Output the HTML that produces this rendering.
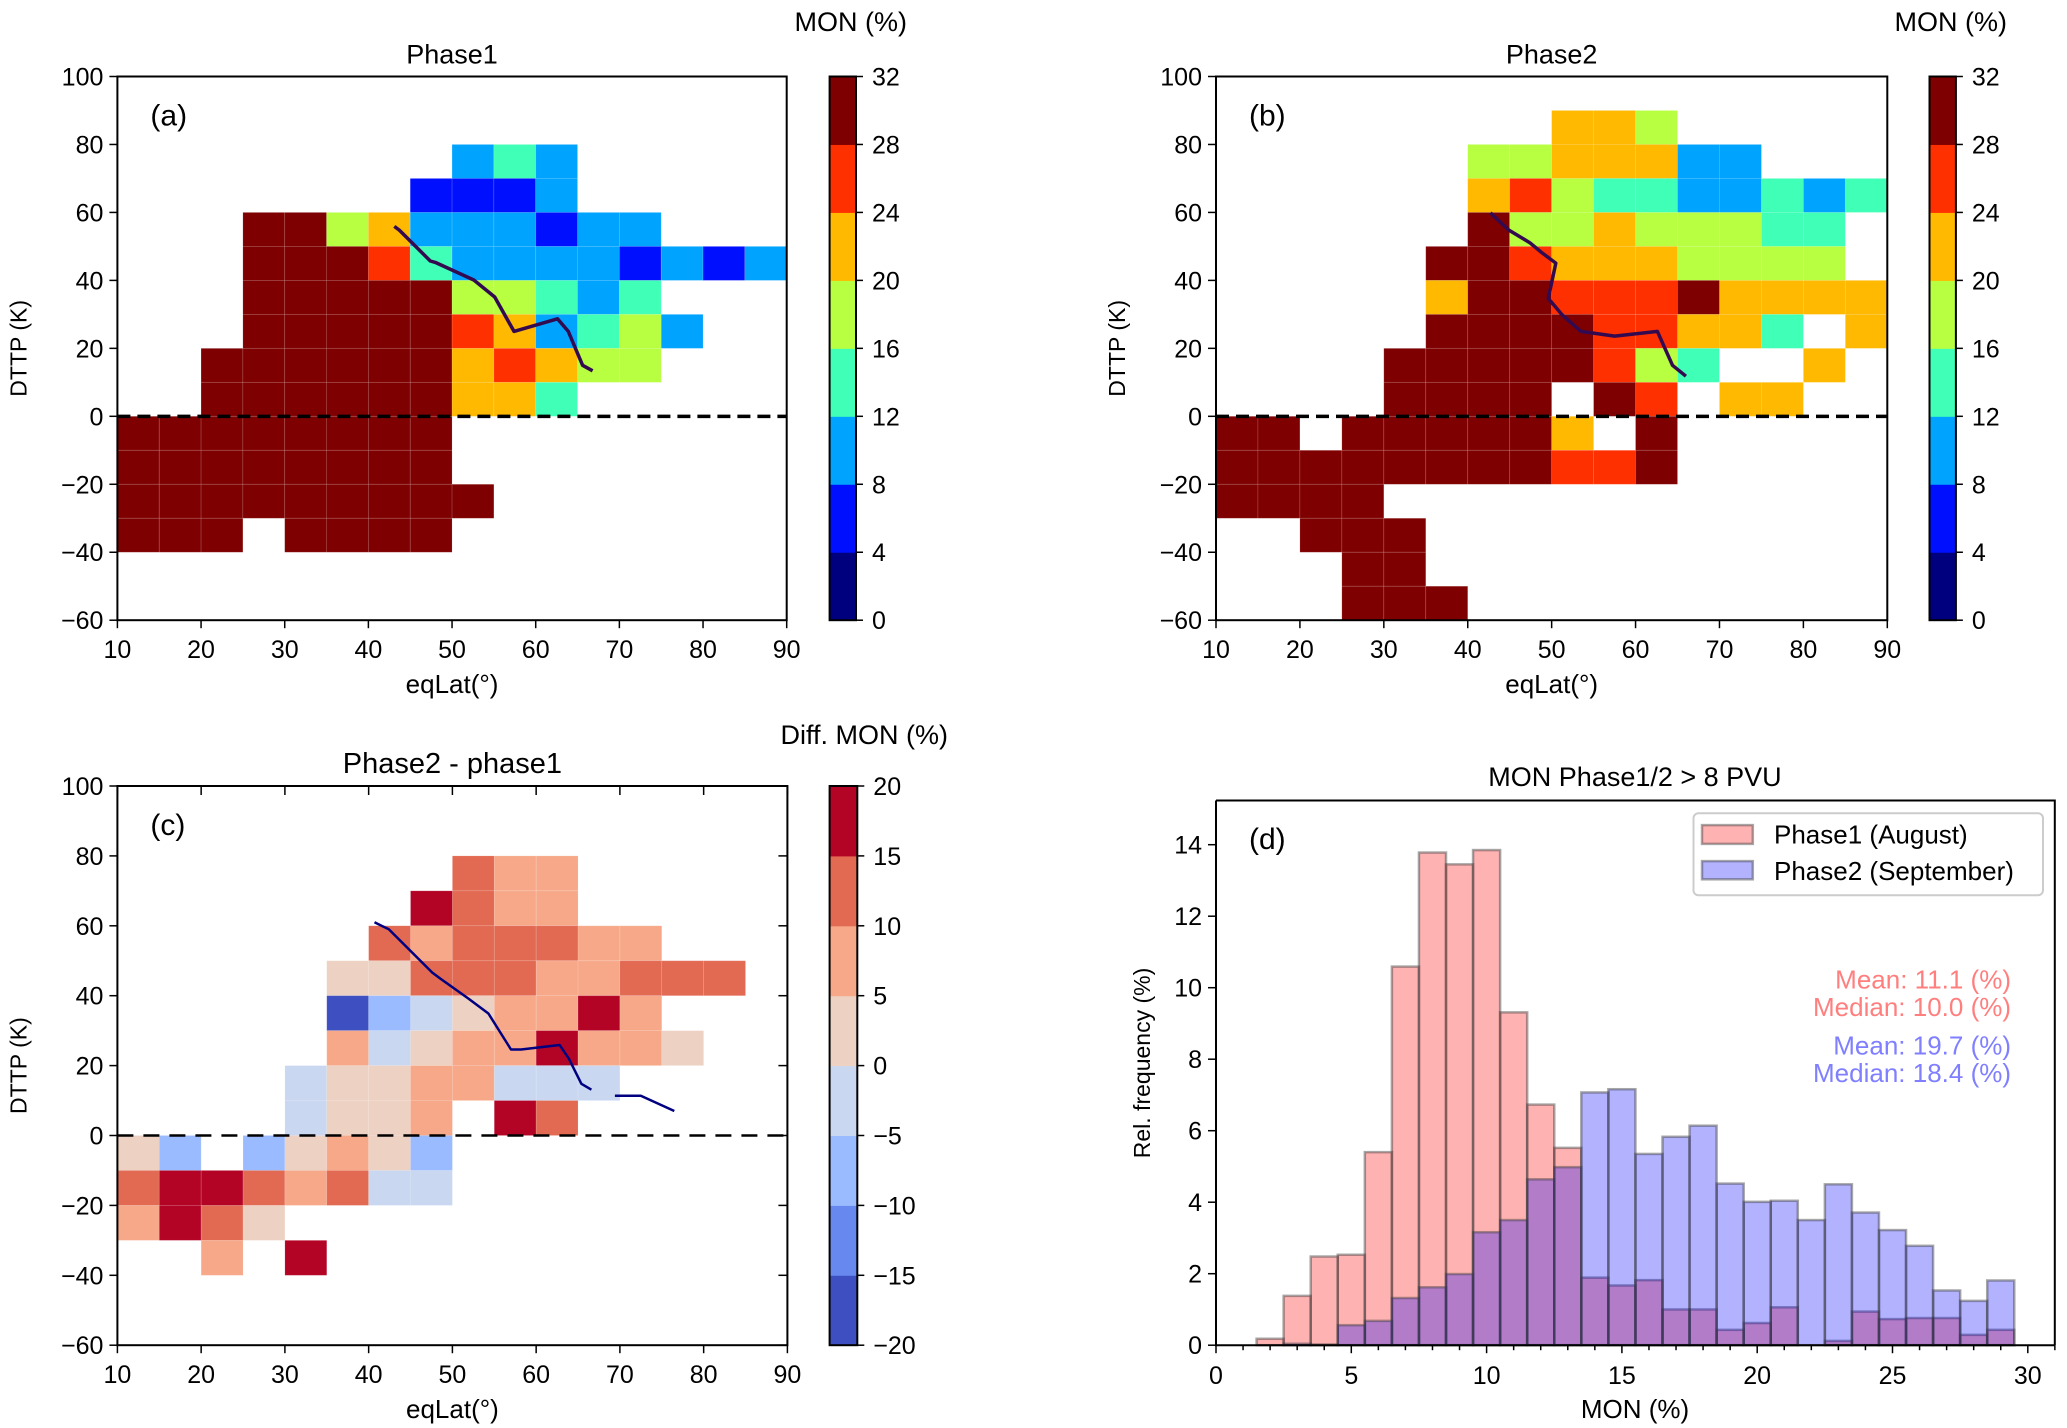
<!DOCTYPE html>
<html><head><meta charset="utf-8">
<style>
html,body{margin:0;padding:0;background:#fff;}
svg{display:block;}
text{font-family:"Liberation Sans",sans-serif;fill:#000;}
</style></head>
<body>
<svg id="fig" width="2067" height="1428" viewBox="0 0 2067 1428" xmlns="http://www.w3.org/2000/svg"></svg>
<script>
const _ = null;
const latEdges = [10,15,20,25,30,35,40,45,50,55,60,65,70,75,80,85];
const dttpTops = [100,90,80,70,60,50,40,30,20,10,0,-10,-20,-30,-40,-50];
const phase1Grid = [
 [_,_,_,_,_,_,_,_,_,_,_,_,_,_,_,_],
 [_,_,_,_,_,_,_,_,_,_,_,_,_,_,_,_],
 [_,_,_,_,_,_,_,_,10,14,10,_,_,_,_,_],
 [_,_,_,_,_,_,_,6,6,6,10,_,_,_,_,_],
 [_,_,_,30,30,18,22,10,10,10,6,10,10,_,_,_],
 [_,_,_,30,30,30,26,14,10,10,10,10,6,10,6,10],
 [_,_,_,30,30,30,30,30,18,18,14,10,14,_,_,_],
 [_,_,_,30,30,30,30,30,26,22,10,14,18,10,_,_],
 [_,_,30,30,30,30,30,30,22,26,22,18,18,_,_,_],
 [_,_,30,30,30,30,30,30,22,22,14,_,_,_,_,_],
 [30,30,30,30,30,30,30,30,_,_,_,_,_,_,_,_],
 [30,30,30,30,30,30,30,30,_,_,_,_,_,_,_,_],
 [30,30,30,30,30,30,30,30,30,_,_,_,_,_,_,_],
 [30,30,30,_,30,30,30,30,_,_,_,_,_,_,_,_],
 [_,_,_,_,_,_,_,_,_,_,_,_,_,_,_,_],
 [_,_,_,_,_,_,_,_,_,_,_,_,_,_,_,_]
];
const phase2Grid = [
 [_,_,_,_,_,_,_,_,_,_,_,_,_,_,_,_],
 [_,_,_,_,_,_,_,_,22,22,18,_,_,_,_,_],
 [_,_,_,_,_,_,18,18,22,22,22,10,10,_,_,_],
 [_,_,_,_,_,_,22,26,18,14,14,10,10,14,10,14],
 [_,_,_,_,_,_,30,18,18,22,18,18,18,14,14,_],
 [_,_,_,_,_,30,30,26,22,22,22,18,18,18,18,_],
 [_,_,_,_,_,22,30,30,26,26,26,30,22,22,22,22],
 [_,_,_,_,_,30,30,30,30,26,26,22,22,14,_,22],
 [_,_,_,_,30,30,30,30,30,26,18,14,_,_,22,_],
 [_,_,_,_,30,30,30,30,_,30,26,_,22,22,_,_],
 [30,30,_,30,30,30,30,30,22,_,30,_,_,_,_,_],
 [30,30,30,30,30,30,30,30,26,26,30,_,_,_,_,_],
 [30,30,30,30,_,_,_,_,_,_,_,_,_,_,_,_],
 [_,_,30,30,30,_,_,_,_,_,_,_,_,_,_,_],
 [_,_,_,30,30,_,_,_,_,_,_,_,_,_,_,_],
 [_,_,_,30,30,30,_,_,_,_,_,_,_,_,_,_]
];
const diffGrid = [
 [_,_,_,_,_,_,_,_,_,_,_,_,_,_,_,_],
 [_,_,_,_,_,_,_,_,_,_,_,_,_,_,_,_],
 [_,_,_,_,_,_,_,_,12.5,7.5,7.5,_,_,_,_,_],
 [_,_,_,_,_,_,_,17.5,12.5,7.5,7.5,_,_,_,_,_],
 [_,_,_,_,_,_,12.5,7.5,12.5,12.5,12.5,7.5,7.5,_,_,_],
 [_,_,_,_,_,2.5,2.5,12.5,12.5,12.5,7.5,7.5,12.5,12.5,12.5,_],
 [_,_,_,_,_,-17.5,-7.5,-2.5,2.5,7.5,7.5,17.5,7.5,_,_,_],
 [_,_,_,_,_,7.5,-2.5,2.5,7.5,7.5,17.5,7.5,7.5,2.5,_,_],
 [_,_,_,_,-2.5,2.5,2.5,7.5,7.5,-2.5,-2.5,-2.5,_,_,_,_],
 [_,_,_,_,-2.5,2.5,2.5,7.5,_,17.5,12.5,_,_,_,_,_],
 [2.5,-7.5,_,-7.5,2.5,7.5,2.5,-7.5,_,_,_,_,_,_,_,_],
 [12.5,17.5,17.5,12.5,7.5,12.5,-2.5,-2.5,_,_,_,_,_,_,_,_],
 [7.5,17.5,12.5,2.5,_,_,_,_,_,_,_,_,_,_,_,_],
 [_,_,7.5,_,17.5,_,_,_,_,_,_,_,_,_,_,_],
 [_,_,_,_,_,_,_,_,_,_,_,_,_,_,_,_],
 [_,_,_,_,_,_,_,_,_,_,_,_,_,_,_,_]
];
const line1Lat = [43.1,43.7,47.4,48.0,52.6,55.1,57.4,62.6,63.9,65.6,66.8];
const line1Dttp = [55.9,54.8,45.7,45.3,40.1,35.1,25.0,28.7,25.0,15.0,13.4];
const line2Lat = [42.7,44.9,47.4,48.8,50.5,49.6,51.2,53.5,57.5,62.6,64.4,66.0];
const line2Dttp = [59.9,54.8,51.1,48.2,45.1,34.7,30.0,25.0,23.6,25.0,15.0,11.8];
const line3Lat = [40.7,42.4,47.6,48.6,51.9,54.3,57.0,58.2,62.8,63.9,65.4,66.6];
const line3Dttp = [61.0,59.0,46.6,44.8,39.2,34.9,24.6,24.6,25.9,22.0,14.8,13.1];
const line3bLat = [69.4,72.5,76.5];
const line3bDttp = [11.4,11.4,7.0];
const xTicks = [10,20,30,40,50,60,70,80,90];
const yTicks = [-60,-40,-20,0,20,40,60,80,100];
const jetBounds = [0,4,8,12,16,20,24,28,32];
const jetColors = ["#00007f","#0010ff","#00a4ff","#40ffb7","#b7ff40","#ffb900","#ff3000","#7f0000"];
const cwBounds = [-20,-15,-10,-5,0,5,10,15,20];
const cwColors = ["#3d4fc1","#6788ee","#9abbff","#c9d7f0","#edd1c2","#f7a889","#e26952","#b40426"];
const histBinStart = [1.5,2.5,3.5,4.5,5.5,6.5,7.5,8.5,9.5,10.5,11.5,12.5,13.5,14.5,15.5,16.5,17.5,18.5,19.5,20.5,21.5,22.5,23.5,24.5,25.5,26.5,27.5,28.5];
const histPhase1 = [0.18,1.38,2.48,2.53,5.4,10.59,13.78,13.45,13.85,9.31,6.73,5.52,1.89,1.67,1.82,1.0,1.0,0.43,0.62,1.06,0,0.12,0.94,0.73,0.76,0.76,0.29,0.43];
const histPhase2 = [0,0.04,0.02,0.56,0.68,1.32,1.62,1.99,3.16,3.5,4.64,4.98,7.07,7.16,5.35,5.83,6.14,4.52,4.01,4.04,3.5,4.5,3.71,3.22,2.78,1.53,1.24,1.81];
const histXTicks = [0,5,10,15,20,25,30];
const histYTicks = [0,2,4,6,8,10,12,14];

const NS = "http://www.w3.org/2000/svg";
const svg = document.getElementById("fig");
function el(tag, attrs, parent, txt){
  const e = document.createElementNS(NS, tag);
  for (const k in attrs) e.setAttribute(k, attrs[k]);
  if (txt !== undefined) e.textContent = txt;
  (parent || svg).appendChild(e);
  return e;
}
function fmt(v){ return v < 0 ? "\u2212" + Math.abs(v) : String(v); }
function binColor(v, bounds, colors){
  for (let i = 0; i < colors.length; i++) if (v < bounds[i+1]) return colors[i];
  return colors[colors.length-1];
}

function heatPanel(P){
  const g = el("g", {});
  
  
  const sx = lat => P.x0 + (lat-10)/80*(P.x1-P.x0);
  const sy = v => P.y0 + (100-v)/160*(P.y1-P.y0);
  const cg = el("g", {}, g);
  
  
  P.grid.forEach((row, r) => row.forEach((v, c) => {
    if (v === null) return;
    const x = sx(latEdges[c]), y = sy(dttpTops[r]);
    const rc = el("rect", {x:x, y:y, width:sx(latEdges[c]+5)-x, height:sy(dttpTops[r]-10)-y,
      fill:binColor(v, P.bounds, P.colors), stroke:"rgba(255,255,255,0.15)", "stroke-width":0.8}, cg);
    
    
  }));
  const zl = el("line", {x1:P.x0, x2:P.x1, y1:sy(0), y2:sy(0), stroke:"#000", "stroke-width":P.dashW, "stroke-dasharray":P.dash}, g);
  
  
  P.lines.forEach(L => {
    const pts = L[0].map((la, i) => sx(la).toFixed(1) + "," + sy(L[1][i]).toFixed(1)).join(" ");
    const pl = el("polyline", {points:pts, fill:"none", stroke:P.lineColor, "stroke-width":P.lineW, "stroke-linejoin":"round"}, g);
    
    
  });
  const fr = el("rect", {x:P.x0, y:P.y0, width:P.x1-P.x0, height:P.y1-P.y0, fill:"none", stroke:"#000", "stroke-width":2}, g);
  
  
  xTicks.forEach(t => {
    el("line", {x1:sx(t), x2:sx(t), y1:P.y1, y2:P.y1+8, stroke:"#000", "stroke-width":1.5}, g);
    if (P.inner) el("line", {x1:sx(t), x2:sx(t), y1:P.y0, y2:P.y0+9, stroke:"#000", "stroke-width":1.5}, g);
    const tl = el("text", {x:sx(t), y:P.y1+38, "text-anchor":"middle", "font-size":25}, g, fmt(t));
    
    
  });
  yTicks.forEach(t => {
    el("line", {x1:P.x0-8, x2:P.x0, y1:sy(t), y2:sy(t), stroke:"#000", "stroke-width":1.5}, g);
    if (P.inner) el("line", {x1:P.x1-9, x2:P.x1, y1:sy(t), y2:sy(t), stroke:"#000", "stroke-width":1.5}, g);
    const tl = el("text", {x:P.x0-14, y:sy(t)+9, "text-anchor":"end", "font-size":25}, g, fmt(t));
    
    
  });
  const xl = el("text", {x:(P.x0+P.x1)/2, y:P.y1+73, "text-anchor":"middle", "font-size":26}, g, "eqLat(\u00b0)");
  
  
  const yx = P.x0-91, yc = (P.y0+P.y1)/2;
  const yl = el("text", {x:yx, y:yc, "text-anchor":"middle", "font-size":23, transform:"rotate(-90 "+yx+" "+yc+")", "font-family":"DejaVu Sans, Liberation Sans, sans-serif"}, g, "DTTP (K)");
  
  
  const ti = el("text", {x:(P.x0+P.x1)/2, y:P.y0-13, "text-anchor":"middle", "font-size":P.titleSize}, g, P.title);
  
  
  const pl = el("text", {x:P.x0+33, y:P.y0+49, "font-size":30, "font-family":"Liberation Serif, serif"}, g, P.label);
  
  
  const cb = el("g", {}, g);
  
  
  const n = P.colors.length, ch = (P.y1-P.y0)/n;
  P.colors.forEach((c, i) => {
    const r = el("rect", {x:P.cb0, y:P.y1-(i+1)*ch, width:P.cb1-P.cb0, height:ch+0.5, fill:c}, cb);
    
    
  });
  el("rect", {x:P.cb0, y:P.y0, width:P.cb1-P.cb0, height:P.y1-P.y0, fill:"none", stroke:"#000", "stroke-width":2}, cb);
  P.bounds.forEach((b, i) => {
    const yy = P.y1 - i*ch;
    el("line", {x1:P.cb1, x2:P.cb1+7, y1:yy, y2:yy, stroke:"#000", "stroke-width":1.5}, cb);
    const t = el("text", {x:P.cb1+16, y:yy+9, "font-size":25}, cb, fmt(b));
    
    
  });
  const ct = el("text", {x:P.cbTitleX, y:P.cbTitleY, "text-anchor":"end", "font-size":27}, cb, P.cbTitle);
  
  
}

heatPanel({name:"panel-a", x0:117.4, x1:786.7, y0:76.5, y1:620.2, grid:phase1Grid, bounds:jetBounds, colors:jetColors,
  lines:[[line1Lat,line1Dttp]], lineColor:"#330a4f", lineW:3.5, dash:"13,7", dashW:3.5, title:"Phase1", titleSize:27, label:"(a)",
  cb0:829.6, cb1:856.0, cbTitle:"MON (%)", cbTitleX:907, cbTitleY:31, inner:false});
heatPanel({name:"panel-b", x0:1216.0, x1:1887.3, y0:76.5, y1:620.2, grid:phase2Grid, bounds:jetBounds, colors:jetColors,
  lines:[[line2Lat,line2Dttp]], lineColor:"#330a4f", lineW:3.5, dash:"13,7", dashW:3.5, title:"Phase2", titleSize:27, label:"(b)",
  cb0:1929.5, cb1:1955.9, cbTitle:"MON (%)", cbTitleX:2007, cbTitleY:31, inner:false});
heatPanel({name:"panel-c", x0:117.4, x1:787.4, y0:786.0, y1:1345.2, grid:diffGrid, bounds:cwBounds, colors:cwColors,
  lines:[[line3Lat,line3Dttp],[line3bLat,line3bDttp]], lineColor:"#000080", lineW:2.5, dash:"16,10", dashW:2.5, title:"Phase2 - phase1", titleSize:29, label:"(c)",
  cb0:829.6, cb1:857.3, cbTitle:"Diff. MON (%)", cbTitleX:948, cbTitleY:744, inner:true});

(function(){
  const g = el("g", {});
  
  
  const X0 = 1216, X30 = 2027.8, Y0 = 1345.2, PU = 35.75, TOP = 800.5, RIGHT = 2054.8;
  const xD = m => X0 + m*(X30-X0)/30;
  const yD = v => Y0 - v*PU;
  const series = [[histPhase1, "rgba(255,0,0,0.3)", "bar-phase1"], [histPhase2, "rgba(0,0,255,0.3)", "bar-phase2"]];
  series.forEach(s => {
    s[0].forEach((v, i) => {
      if (v <= 0) return;
      const x = xD(histBinStart[i]), w = xD(histBinStart[i]+1)-x;
      const r = el("rect", {x:x, y:yD(v), width:w, height:Y0-yD(v), fill:s[1], stroke:"rgba(60,60,60,0.45)", "stroke-width":2.5}, g);
      
      
    });
  });
  const fr = el("path", {d:"M"+X0+" "+TOP+" H"+RIGHT+" V"+Y0+" M"+X0+" "+TOP+" V"+Y0+" H"+RIGHT, fill:"none", stroke:"#000", "stroke-width":2}, g);
  
  
  for (let m = 0; m <= 31; m++) {
    el("line", {x1:xD(m), x2:xD(m), y1:Y0, y2:Y0+(m%5===0?8:5), stroke:"#000", "stroke-width":1.5}, g);
  }
  histXTicks.forEach(t => {
    const tl = el("text", {x:xD(t), y:Y0+39, "text-anchor":"middle", "font-size":25}, g, String(t));
    
    
  });
  histYTicks.forEach(t => {
    el("line", {x1:X0-8, x2:X0, y1:yD(t), y2:yD(t), stroke:"#000", "stroke-width":1.5}, g);
    const tl = el("text", {x:X0-14, y:yD(t)+9, "text-anchor":"end", "font-size":25}, g, String(t));
    
    
  });
  const xl = el("text", {x:1635, y:1418, "text-anchor":"middle", "font-size":26}, g, "MON (%)");
  
  
  const yl = el("text", {x:1150, y:1063, "text-anchor":"middle", "font-size":23, transform:"rotate(-90 1150 1063)", "font-family":"DejaVu Sans, Liberation Sans, sans-serif"}, g, "Rel. frequency (%)");
  
  
  const ti = el("text", {x:1635, y:786, "text-anchor":"middle", "font-size":27}, g, "MON Phase1/2 > 8 PVU");
  
  
  const pl = el("text", {x:1249, y:849, "font-size":30, "font-family":"Liberation Serif, serif"}, g, "(d)");
  
  
  const lg = el("g", {}, g);
  
  
  el("rect", {x:1693.5, y:813.3, width:349.5, height:82, rx:5, fill:"rgba(255,255,255,0.85)", stroke:"#cccccc", "stroke-width":2}, lg);
  const e1 = el("rect", {x:1702, y:825.1, width:50.8, height:18.8, fill:"rgba(255,0,0,0.3)", stroke:"rgba(60,60,60,0.45)", "stroke-width":2.5}, lg);
  
  
  const t1 = el("text", {x:1774, y:843.5, "font-size":26}, lg, "Phase1 (August)");
  
  
  const e2 = el("rect", {x:1702, y:861.1, width:50.8, height:18.2, fill:"rgba(0,0,255,0.3)", stroke:"rgba(60,60,60,0.45)", "stroke-width":2.5}, lg);
  
  
  const t2 = el("text", {x:1774, y:880, "font-size":26}, lg, "Phase2 (September)");
  
  
  const stats = [["Mean: 11.1 (%)", 988.6, "#ff7f7f", "phase1-mean"], ["Median: 10.0 (%)", 1015.9, "#ff7f7f", "phase1-median"],
                 ["Mean: 19.7 (%)", 1054.6, "#7f7fff", "phase2-mean"], ["Median: 18.4 (%)", 1081.9, "#7f7fff", "phase2-median"]];
  stats.forEach(s => {
    const t = el("text", {x:2011, y:s[1], "text-anchor":"end", "font-size":26, style:"fill:"+s[2]}, g, s[0]);
    
    
  });
})();
</script>
</body></html>
